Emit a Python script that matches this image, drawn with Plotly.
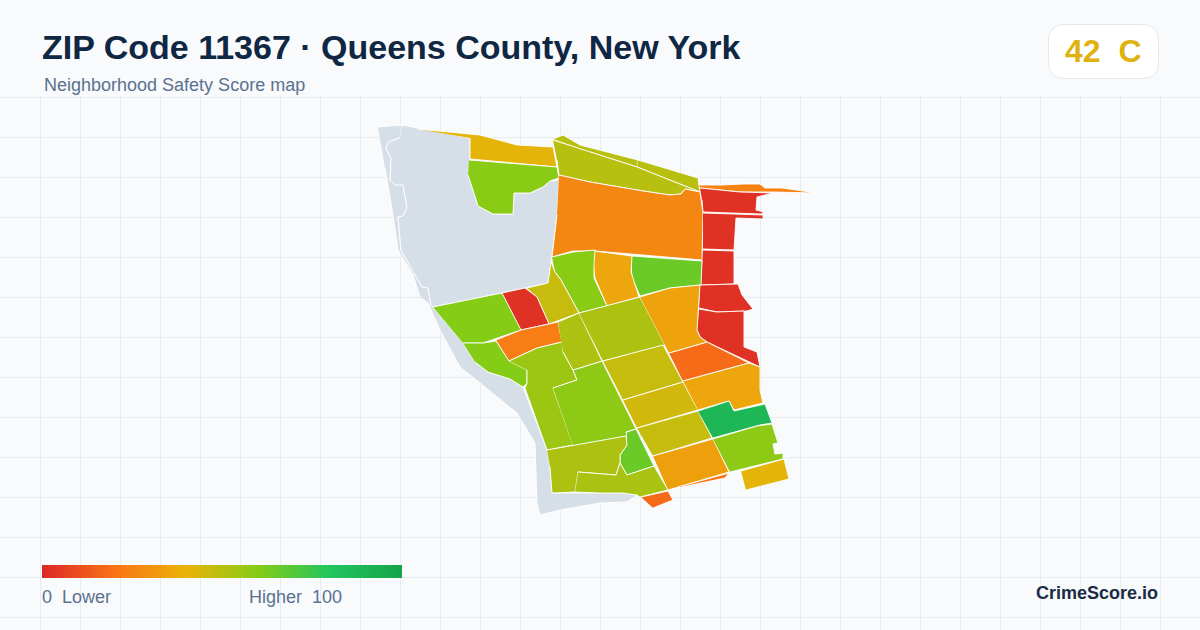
import plotly.graph_objects as go
from plotly.colors import sample_colorscale

# neighborhood outlines, one list of points per tract
no_data_tracts = [
    [(378,127),(402,125),(400,138),(388,142),(386,148),(391,158),(390,180),(395,185),(403,185),(405,195),(407,208),
     (403,216),(398,217),(401,250),(415,275),(422,287),(428,288),(431,305),(433,307),(463,343),(475,362),(488,372),
     (510,379),(523,387),(547,450),(550,467),(552,493),(600,493),(623,493),(637,495),(627,502),(600,503),(560,510),
     (540,515),(537,503),(535,443),(517,413),(480,383),(460,367),(440,330),(428,303),(420,297),(413,275),(398,250),
     (393,215),(385,168)],
    [(402,125),(470,138),(470,159),(468,175),(473,190),(478,206),(493,214),(513,214),(514,193),(530,193),(543,187),
     (550,181),(559,180),(557,215),(552,257),(551,262),(548,283),(502,293),(433,307),(431,305),(428,288),(422,287),
     (415,275),(401,250),(398,217),(403,216),(407,208),(405,195),(403,185),(395,185),(390,180),(391,158),(386,148),
     (388,142),(400,138)],
]

tract_outlines = [
    [(417,129),(480,135),(517,145),(553,147),(557,167),(470,159),(470,138)],
    [(469,160),(557,167),(559,178),(550,181),(543,187),(530,193),(514,193),(513,214),(493,214),(478,206),(473,190),(468,175)],
    [(553,139),(563,135),(580,145),(638,160),(637,167),(590,152)],
    [(638,160),(698,178),(699,186),(700,192),(637,167)],
    [(553,140),(637,167),(700,192),(685,189),(681,194),(670,195),(643,191),(590,182),(559,175),(557,160)],
    [(559,175),(590,182),(643,191),(670,195),(681,194),(685,189),(700,192),(703,213),(702,260),(595,251),(573,251),(552,257),(557,215)],
    [(699,185),(722,185),(743,184),(760,184),(765,188),(782,188),(803,191),(815,193),(773,192),(740,192),(700,188)],
    [(700,188),(740,192),(773,193),(757,197),(756,210),(764,212),(761,214),(703,212),(702,200)],
    [(703,213),(763,215),(763,219),(736,218),(734,250),(703,249)],
    [(703,250),(734,251),(734,284),(701,285)],
    [(700,285),(738,284),(742,295),(753,309),(747,311),(717,312),(699,308)],
    [(699,309),(717,312),(744,311),(744,347),(757,352),(760,367),(707,342),(700,337),(697,330)],
    [(632,256),(702,261),(701,285),(670,288),(640,296),(632,278),(631,265)],
    [(594,251),(632,256),(631,272),(639,297),(607,306),(595,278),(593,262)],
    [(552,257),(573,252),(595,250),(594,265),(594,278),(607,306),(579,313),(561,280),(555,272)],
    [(527,288),(548,283),(551,262),(555,272),(561,280),(579,313),(549,324),(537,297)],
    [(502,293),(525,288),(537,297),(549,324),(521,330)],
    [(433,307),(502,293),(521,330),(483,343),(463,343)],
    [(496,340),(521,330),(558,322),(562,342),(537,348),(509,361)],
    [(463,343),(483,343),(496,341),(509,361),(527,370),(527,383),(523,387),(510,379),(488,372),(475,362)],
    [(509,361),(537,348),(562,342),(563,352),(573,370),(577,380),(553,388),(573,445),(547,450),(525,388),(527,383),(527,370)],
    [(553,388),(577,380),(573,370),(602,361),(636,429),(626,432),(627,436),(573,446)],
    [(558,322),(579,313),(602,361),(573,370),(563,352)],
    [(579,313),(640,297),(665,345),(603,361)],
    [(603,361),(663,345),(683,382),(623,400)],
    [(623,400),(683,382),(698,410),(637,428)],
    [(637,428),(698,411),(712,438),(653,456)],
    [(653,456),(713,439),(729,472),(678,487),(668,490)],
    [(678,487),(729,473),(725,478),(682,487)],
    [(641,497),(668,491),(673,500),(653,508)],
    [(669,353),(707,342),(749,363),(683,381)],
    [(683,381),(749,363),(760,367),(760,390),(763,403),(734,410),(729,401),(698,410)],
    [(698,411),(729,401),(734,411),(765,404),(772,423),(760,425),(713,438)],
    [(713,439),(757,426),(772,424),(778,443),(773,444),(775,454),(783,453),(783,459),(730,472)],
    [(741,471),(784,459),(789,479),(746,490)],
    [(627,432),(636,429),(654,466),(627,475),(620,463),(620,455),(627,445)],
    [(547,450),(626,436),(627,445),(620,455),(620,463),(616,475),(578,472),(575,492),(552,493),(550,467)],
    [(578,472),(616,475),(620,463),(627,475),(654,466),(668,490),(640,497),(637,495),(623,493),(600,493),(575,492)],
    [(640,297),(670,288),(700,285),(697,330),(700,337),(707,342),(669,353)],
]
tract_scores = [41, 59, 50, 50, 50, 26, 25, 3, 3, 3, 3, 3, 65, 36, 59, 47, 3, 60, 23, 60, 55, 58, 52,
                52, 47, 45, 47, 34, 20, 18, 18, 36, 88, 58, 41, 65, 52, 53, 35]

legend_values = list(range(0, 101))
grade_score = 42
grade_letter = "C"

score_scale = [[0.0, "#dc2626"], [0.2, "#f97316"], [0.4, "#eab308"], [0.6, "#84cc16"], [0.8, "#22c55e"], [1.0, "#16a34a"]]
PAGE_BG = "#f8fafc"
GRID = "#e5edf2"
NO_DATA = "#d6dfe7"
FONT = "Liberation Sans"

fig = go.Figure()


def add_tract(points, color, label):
    fig.add_trace(go.Scatter(x=[p[0] for p in points], y=[p[1] for p in points], mode="lines",
                             fill="toself", fillcolor=color, line=dict(color="white", width=0.9),
                             hoverinfo="text", text=label, showlegend=False))


for outline in no_data_tracts:
    add_tract(outline, NO_DATA, "No data")
for outline, score in zip(tract_outlines, tract_scores):
    add_tract(outline, sample_colorscale(score_scale, score / 100)[0], f"Score {score}")

# gradient legend sits on its own little axis pair
fig.add_trace(go.Heatmap(z=[legend_values], x=legend_values, y=[0], zmin=0, zmax=100, colorscale=score_scale,
                         showscale=False, hoverinfo="skip", xaxis="x2", yaxis="y2"))

fig.update_layout(
    width=1200, height=630, margin=dict(l=0, r=0, t=0, b=0),
    paper_bgcolor=PAGE_BG, plot_bgcolor=PAGE_BG, font=dict(family=FONT),
    xaxis=dict(range=[0, 1200], tick0=0, dtick=40, showgrid=True, gridcolor=GRID, gridwidth=1, zeroline=False,
               showticklabels=False, ticks="", fixedrange=True),
    yaxis=dict(range=[630, 0], tick0=17, dtick=40, showgrid=True, gridcolor=GRID, gridwidth=1, zeroline=False,
               showticklabels=False, ticks="", fixedrange=True),
    xaxis2=dict(domain=[42 / 1200, 402 / 1200], range=[0, 100], visible=False, anchor="y2"),
    yaxis2=dict(domain=[52 / 630, 65 / 630], range=[-0.5, 0.5], visible=False, anchor="x2"),
    shapes=[
        # header band hides the grid above the map
        dict(type="rect", xref="x", yref="y", x0=0, x1=1200, y0=0, y1=96, fillcolor=PAGE_BG, line_width=0, layer="above"),
        dict(type="path", xref="x", yref="y", layer="above", fillcolor="white", line=dict(color="#e2e8f0", width=1),
             path="M 1064.5 24.5 H 1142.5 Q 1158.5 24.5 1158.5 40.5 V 62.5 Q 1158.5 78.5 1142.5 78.5 H 1064.5 "
                  "Q 1048.5 78.5 1048.5 62.5 V 40.5 Q 1048.5 24.5 1064.5 24.5 Z"),
    ],
)


def add_label(x, y, text, size, color, bold=False, anchor="left"):
    fig.add_annotation(x=x, y=y, xref="x", yref="y", text=f"<b>{text}</b>" if bold else text, showarrow=False,
                       xanchor=anchor, yanchor="middle", align=anchor, borderpad=0,
                       font=dict(family=FONT, size=size, color=color))


add_label(41, 47, "ZIP Code 11367 · Queens County, New York", 34, "#0f2742", bold=True)
add_label(43, 85, "Neighborhood Safety Score map", 18, "#5a7190")
add_label(1103, 51, f"{grade_score}\u00a0\u00a0{grade_letter}", 32, "#e0b20f", bold=True, anchor="center")
add_label(41, 597, "0\u00a0\u00a0Lower", 18, "#5a7190")
add_label(343, 597, "Higher\u00a0\u00a0100", 18, "#5a7190", anchor="right")
add_label(1159, 593, "CrimeScore.io", 18, "#1a2c44", bold=True, anchor="right")

# page margin would push the 1200x630 figure off the window
fig.write_html("out.html", config={"displayModeBar": False},
               post_script="document.body.style.margin='0';document.body.style.overflow='hidden';")
